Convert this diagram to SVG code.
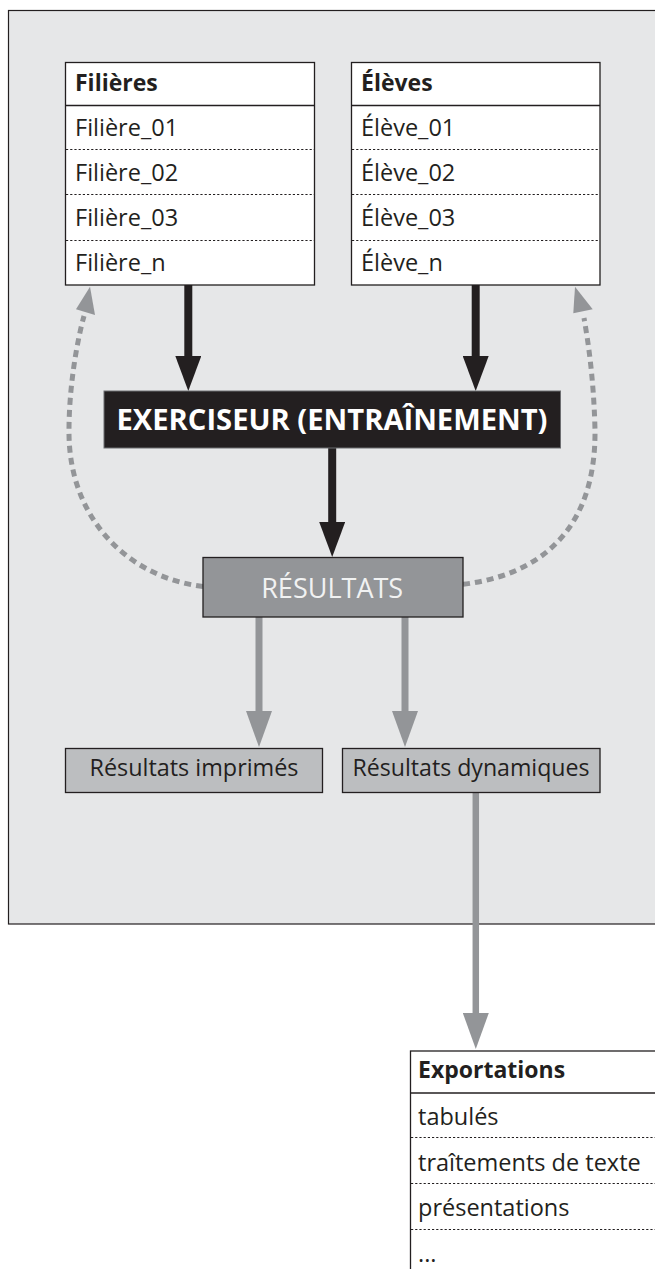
<svg xmlns="http://www.w3.org/2000/svg" width="655" height="1269" viewBox="0 0 655 1269">
<style>
.panel{fill:#e6e7e8;stroke:#231f20;stroke-width:1.2}
.tbl{fill:#ffffff;stroke:#231f20;stroke-width:1.3}
.sep{stroke:#231f20;stroke-width:1.3}
.dot{stroke:#231f20;stroke-width:1;stroke-dasharray:2.2 2}
.h{font-family:"Open Sans","Liberation Sans",sans-serif;font-weight:700;font-size:23px;fill:#231f20}
.t{font-family:"Open Sans","Liberation Sans",sans-serif;font-size:23.5px;fill:#231f20}
.blk{stroke:#231f20;stroke-width:8;fill:none}
.gry{stroke:#939598;stroke-width:7;fill:none}
.dash{stroke:#939598;stroke-width:5;fill:none;stroke-dasharray:7 5}
.gh{fill:#939598}
.lbox{fill:#bcbec0;stroke:#231f20;stroke-width:1.3}
</style>
<defs>
<marker id="hb" viewBox="0 0 35 26" refX="0" refY="13" markerWidth="35" markerHeight="26" markerUnits="userSpaceOnUse" orient="auto"><path d="M0,0 L35,13 L0,26 Z" fill="#231f20"/></marker>
<marker id="hg" viewBox="0 0 36 26" refX="0" refY="13" markerWidth="36" markerHeight="26" markerUnits="userSpaceOnUse" orient="auto"><path d="M0,0 L36,13 L0,26 Z" fill="#939598"/></marker>
</defs>
<rect class="panel" x="8.5" y="10.5" width="700" height="913.5"/>
<g id="connectors">
<line class="blk" x1="188.3" y1="285" x2="188.3" y2="356" marker-end="url(#hb)"/>
<line class="blk" x1="475.7" y1="285" x2="475.7" y2="356" marker-end="url(#hb)"/>
<line class="blk" x1="332.2" y1="448" x2="332.2" y2="522" marker-end="url(#hb)"/>
<line class="gry" x1="259" y1="617" x2="259" y2="711" marker-end="url(#hg)"/>
<line class="gry" x1="405" y1="617" x2="405" y2="711" marker-end="url(#hg)"/>
<line class="gry" x1="475.8" y1="792.7" x2="475.8" y2="1013" marker-end="url(#hg)" style="stroke-width:6.5"/>
<path class="dash" d="M203,586.5 C130,578 68,520 69,430 C69,390 76,345 84,316"/>
<polygon class="gh" points="90,286.7 76,309.3 95,315"/>
<path class="dash" d="M463,584.3 C540,575 596,530 595,430 C594,388 590,352 584,318"/>
<polygon class="gh" points="575,286.7 573.3,313.3 592.7,309.3"/>
</g>
<g id="filieres">
<rect class="tbl" x="65.5" y="62.5" width="249" height="222.5"/>
<line class="sep" x1="65.5" y1="105.5" x2="314.5" y2="105.5"/>
<line class="dot" x1="66" y1="149.5" x2="314" y2="149.5"/>
<line class="dot" x1="66" y1="194.5" x2="314" y2="194.5"/>
<line class="dot" x1="66" y1="240.5" x2="314" y2="240.5"/>
<text class="h" x="75" y="90.5">Filières</text>
<text class="t" x="75" y="135.5">Filière_01</text>
<text class="t" x="75" y="180.5">Filière_02</text>
<text class="t" x="75" y="225.5">Filière_03</text>
<text class="t" x="75" y="271">Filière_n</text>
</g>
<g id="eleves">
<rect class="tbl" x="351.5" y="62.5" width="248.5" height="222.5"/>
<line class="sep" x1="351.5" y1="105.5" x2="600" y2="105.5"/>
<line class="dot" x1="352" y1="149.5" x2="599.5" y2="149.5"/>
<line class="dot" x1="352" y1="194.5" x2="599.5" y2="194.5"/>
<line class="dot" x1="352" y1="240.5" x2="599.5" y2="240.5"/>
<text class="h" x="361" y="90.5">Élèves</text>
<text class="t" x="361" y="135.5">Élève_01</text>
<text class="t" x="361" y="180.5">Élève_02</text>
<text class="t" x="361" y="225.5">Élève_03</text>
<text class="t" x="361" y="271">Élève_n</text>
</g>
<g id="exerciseur">
<rect x="104" y="391" width="456.5" height="57" fill="#231f20" stroke="#6d6e71" stroke-width="1"/>
<text x="332" y="430" text-anchor="middle" textLength="431" lengthAdjust="spacingAndGlyphs" style="font-family:'Open Sans','Liberation Sans',sans-serif;font-weight:700;font-size:29px;fill:#ffffff">EXERCISEUR (ENTRAÎNEMENT)</text>
</g>
<g id="resultats">
<rect x="203" y="557.5" width="260" height="59.5" fill="#939598" stroke="#231f20" stroke-width="1.3"/>
<text x="332.2" y="597.5" text-anchor="middle" textLength="142" lengthAdjust="spacingAndGlyphs" style="font-family:'Open Sans','Liberation Sans',sans-serif;font-size:28px;fill:#f1f2f2">RÉSULTATS</text>
</g>
<g id="imprimes">
<rect class="lbox" x="65.5" y="748.5" width="257" height="44"/>
<text class="t" x="194" y="776" text-anchor="middle" textLength="209" lengthAdjust="spacingAndGlyphs">Résultats imprimés</text>
</g>
<g id="dynamiques">
<rect class="lbox" x="342.5" y="748.5" width="257.5" height="44"/>
<text class="t" x="471" y="776" text-anchor="middle" textLength="237" lengthAdjust="spacingAndGlyphs">Résultats dynamiques</text>
</g>
<g id="exportations">
<rect class="tbl" x="410.5" y="1051" width="300" height="260"/>
<line class="sep" x1="410.5" y1="1093" x2="655" y2="1093"/>
<line class="dot" x1="411" y1="1137.5" x2="655" y2="1137.5"/>
<line class="dot" x1="411" y1="1183.5" x2="655" y2="1183.5"/>
<line class="dot" x1="411" y1="1229.5" x2="655" y2="1229.5"/>
<text class="h" x="418" y="1078">Exportations</text>
<text class="t" x="418" y="1125">tabulés</text>
<text class="t" x="418" y="1170.5">traîtements de texte</text>
<text class="t" x="418" y="1216">présentations</text>
<text class="t" x="418" y="1261.5">...</text>
</g>
</svg>
